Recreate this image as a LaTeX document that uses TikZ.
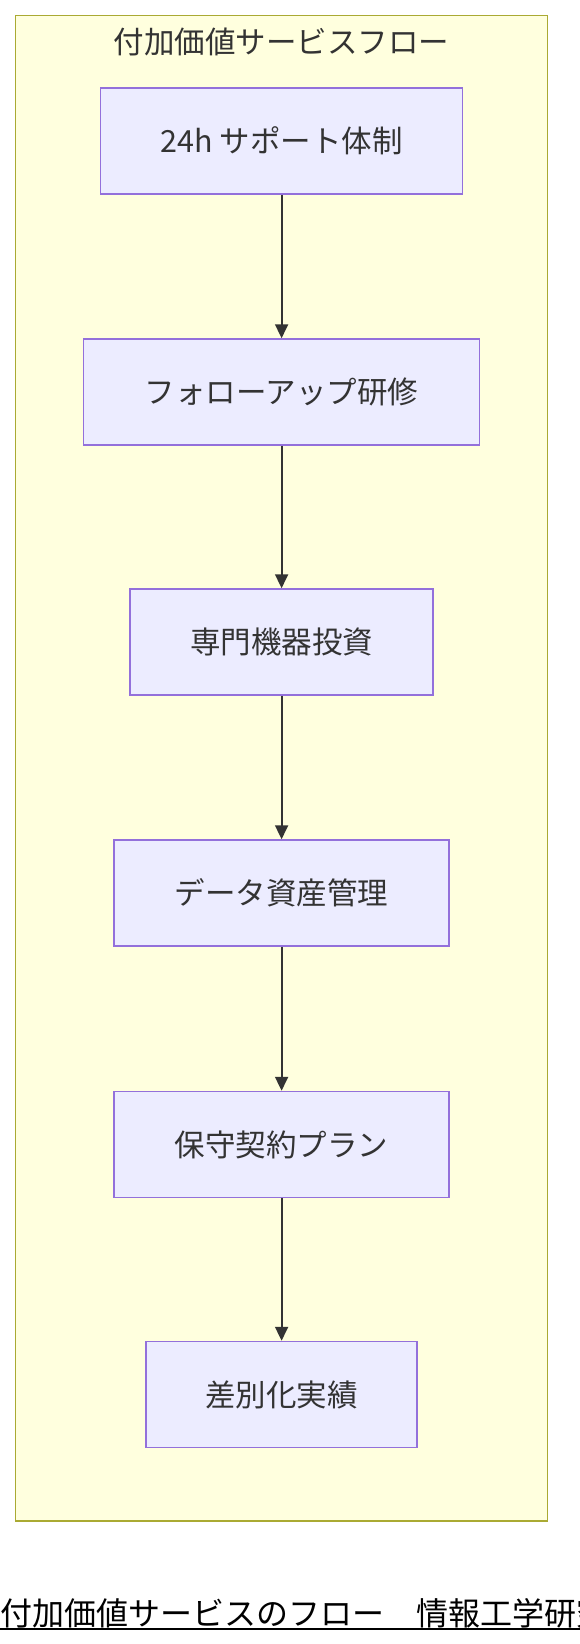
\documentclass[tikz,border=0pt]{standalone}
\usepackage{fontspec}
\setmainfont{Noto Sans CJK JP}
\usetikzlibrary{arrows.meta}
\definecolor{grp}{HTML}{FFFFDE}
\definecolor{grpline}{HTML}{AAAA33}
\definecolor{stepfill}{HTML}{ECECFF}
\definecolor{stepline}{HTML}{9370DB}
\definecolor{ink}{HTML}{333333}
\begin{document}
\begin{tikzpicture}[x=1pt, y=1pt,
  stepbox/.style={draw=stepline, fill=stepfill, line width=1.5pt, text=ink,
    minimum height=106pt, inner sep=0pt, font=\fontsize{30.5}{36}\selectfont},
  flow/.style={draw=ink, line width=2pt, -{Triangle[length=14pt, width=13pt]}}]
\useasboundingbox (0,0) rectangle (580,-1644);
\fill[white] (0,0) rectangle (580,-1644);

% group
\filldraw[draw=grpline, fill=grp, line width=1.5pt] (15.7,-15.7) rectangle (547.5,-1520.8);
\node[text=ink, font=\fontsize{30.5}{36}\selectfont] (title) at (281.6,-42) {付加価値サービスフロー};

% steps
\node[stepbox, minimum width=362pt] (sup) at (281.6,-141) {24h サポート体制};
\node[stepbox, minimum width=396pt] (fol) at (281.6,-392) {フォローアップ研修};
\node[stepbox, minimum width=303pt] (inv) at (281.6,-642) {専門機器投資};
\node[stepbox, minimum width=335pt] (dat) at (281.6,-893) {データ資産管理};
\node[stepbox, minimum width=335pt] (mnt) at (281.6,-1144.5) {保守契約プラン};
\node[stepbox, minimum width=271pt] (res) at (281.6,-1394.5) {差別化実績};

\foreach \a/\b in {sup/fol, fol/inv, inv/dat, dat/mnt, mnt/res}
  \draw[flow] (\a) -- (\b);

% caption
\node[anchor=base west, inner sep=0pt, font=\fontsize{32}{38}\selectfont] (cap) at (0,-1625) {付加価値サービスのフロー　情報工学研究};
\draw[line width=2pt] ([yshift=-4pt]cap.base west) -- ++(580,0);
\end{tikzpicture}
\end{document}
